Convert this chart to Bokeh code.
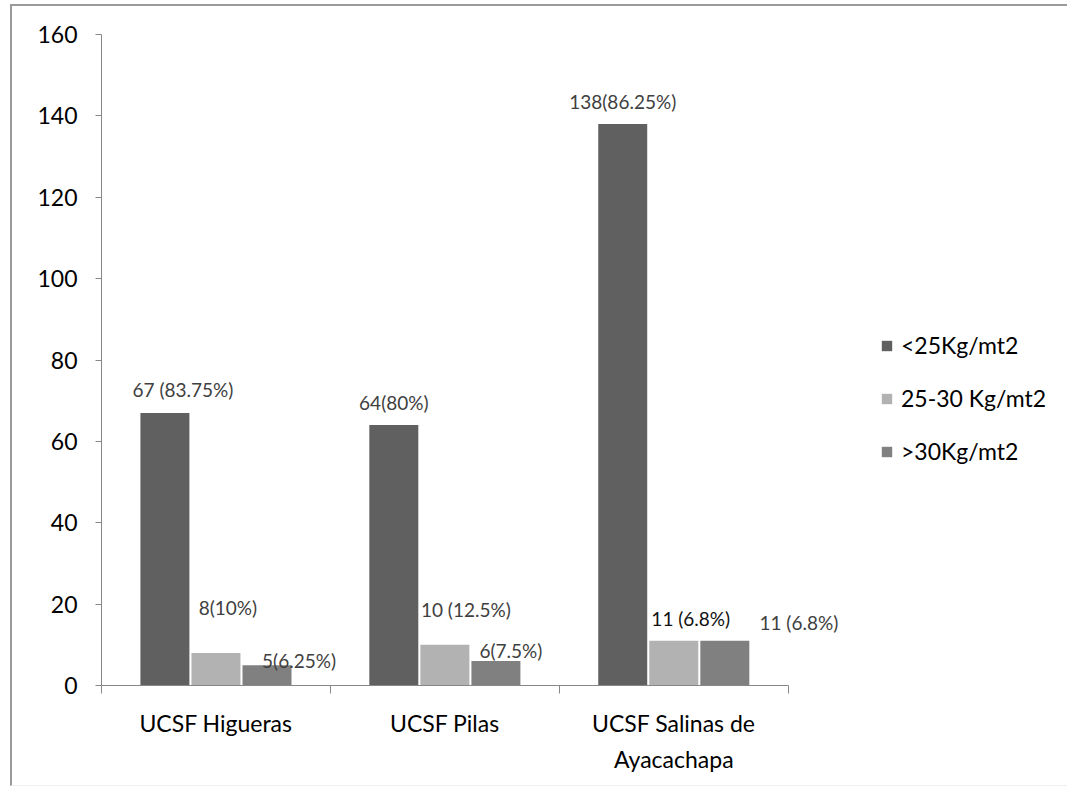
from bokeh.plotting import figure
from bokeh.models import Range1d, FixedTicker, Legend, LegendItem, ColumnDataSource
from bokeh.embed import file_html
from bokeh.resources import INLINE
from bokeh.core.properties import value

# Health units (UCSF) and BMI classes
centres = ["UCSF Higueras", "UCSF Pilas", "UCSF Salinas de\nAyacachapa"]
series = ["<25Kg/mt2", "25-30 Kg/mt2", ">30Kg/mt2"]

under_25 = [67, 64, 138]
from_25_to_30 = [8, 10, 11]
over_30 = [5, 6, 11]

labels_under_25 = ["67 (83.75%)", "64(80%)", "138(86.25%)"]
labels_25_to_30 = ["8(10%)", "10 (12.5%)", "11 (6.8%)"]
labels_over_30 = ["5(6.25%)", "6(7.5%)", "11 (6.8%)"]

y_ticks = [0, 20, 40, 60, 80, 100, 120, 140, 160]

# Styling
colors = ["#606060", "#b2b2b2", "#808080"]
FONT = "Lato"
AXIS_GREY = "#878787"
BAR_W = 0.214
BAR_SHIFT = [-0.223, 0.0, 0.223]
# label nudges in screen pixels (dx right, dy up from bar top)
label_dx = [[18, 0, 0], [12, 21, 17], [32, 15, 74]]
label_dy = [[23, 23, 23], [45, 35, 22], [5, 11, 18]]
label_colors = [["#404040"] * 3, ["#404040", "#404040", "#111111"], ["#404040"] * 3]

n = len(centres)
x_end = 4.22

p = figure(
    frame_width=966, frame_height=651,
    x_range=Range1d(0, x_end), y_range=Range1d(0, 160),
    output_backend="svg", toolbar_location=None,
    min_border_left=89, min_border_top=28, min_border_right=0, min_border_bottom=100,
    margin=(4, 0, 0, 10),
)
p.styles = {"border-top": "2px solid #9a9a9a", "border-left": "2px solid #9a9a9a",
            "border-bottom": "1px solid #efefef"}
p.outline_line_color = None
p.xgrid.visible = False
p.ygrid.visible = False
p.background_fill_color = "white"
p.border_fill_color = "white"

all_values = [under_25, from_25_to_30, over_30]
all_labels = [labels_under_25, labels_25_to_30, labels_over_30]
legend_items = []
for k, (vals, labs) in enumerate(zip(all_values, all_labels)):
    src = ColumnDataSource(dict(
        x=[i + 0.5 + BAR_SHIFT[k] for i in range(n)],
        top=vals,
        text=labs,
        dx=label_dx[k],
        dy=[-d for d in label_dy[k]],
        tc=label_colors[k],
    ))
    r = p.vbar(x="x", top="top", width=BAR_W, bottom=0, source=src,
               fill_color=colors[k], line_color=None)
    legend_items.append(LegendItem(label=series[k], renderers=[r]))
    p.text(x="x", y="top", text="text", x_offset="dx", y_offset="dy", source=src,
           text_align="center", text_baseline="middle", text_color="tc",
           text_font=value(FONT), text_font_size="19px")

# x axis: category names centred, tick marks at boundaries
xa = p.xaxis[0]
xa.bounds = (0, n)
xa.ticker = FixedTicker(ticks=[i + 0.5 for i in range(n)], minor_ticks=list(range(n + 1)))
xa.major_label_overrides = {i + 0.5: c for i, c in enumerate(centres)}
xa.major_tick_line_color = None
xa.major_tick_out = 0
xa.major_tick_in = 0
xa.minor_tick_line_color = AXIS_GREY
xa.minor_tick_out = 8
xa.minor_tick_in = 0
xa.axis_line_color = AXIS_GREY
xa.major_label_text_font = FONT
xa.major_label_text_font_size = "23px"
xa.major_label_text_color = "black"
xa.major_label_text_line_height = 1.3
xa.major_label_standoff = 15

ya = p.yaxis[0]
ya.ticker = FixedTicker(ticks=y_ticks, minor_ticks=[])
ya.axis_line_color = AXIS_GREY
ya.major_tick_line_color = AXIS_GREY
ya.major_tick_out = 6
ya.major_tick_in = 0
ya.minor_tick_line_color = None
ya.major_label_text_font = FONT
ya.major_label_text_font_size = "23px"
ya.major_label_text_color = "black"
ya.major_label_standoff = 18

legend = Legend(items=legend_items, location=(779, 220), orientation="vertical",
                border_line_color=None, background_fill_alpha=0,
                padding=0, margin=0, spacing=25,
                glyph_width=13, glyph_height=13, label_standoff=8,
                label_text_font=FONT, label_text_font_size="23px", label_text_color="black")
p.add_layout(legend)

open("out.html", "w").write(file_html(p, INLINE))
